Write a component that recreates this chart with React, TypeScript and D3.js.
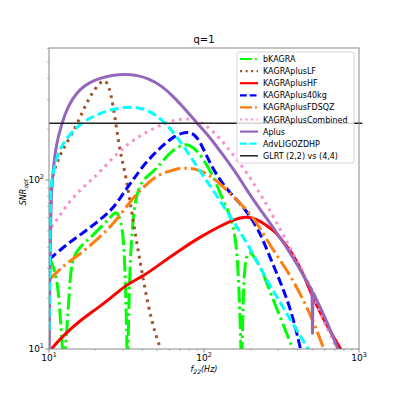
import React from "react";
import * as d3 from "d3";

type Pt = [number, number];

const bKAGRA: Pt[] = [
  [10, 35], [10.46, 32.3], [10.93, 28.55], [11.43, 23.3], [11.77, 16.3], [12.13, 11.3],
  [12.49, 7], [12.49, 7], [12.49, 7],
  [12.87, 11.3], [13.26, 16.3], [13.66, 25.6], [14.07, 32.7], [14.93, 37.5], [16.56, 41.8],
  [18.95, 46.6], [21.3, 52], [24, 58], [25.9, 62.9], [27.1, 64.7], [27.9, 62.9], [29.1, 56.4],
  [30, 48.6], [30.9, 31.4], [31.6, 14.8],
  [32.1, 7], [32.1, 7], [32.1, 7],
  [32.6, 14.8], [33.3, 31.4], [34.3, 48.6], [35.3, 66.4], [37, 83.8], [39.8, 98.6],
  [44.8, 108.5], [49.7, 117.8], [56, 134.9], [63.1, 150.5], [73.3, 163.3], [81.2, 161],
  [90.1, 150.5], [104.6, 122.7], [117.8, 100], [130.6, 78.3], [142.8, 66.4], [151.5, 56.4],
  [156.1, 50.6], [163.3, 38.5], [168.2, 22.3], [172, 12.95],
  [174.6, 7], [174.6, 7], [174.6, 7],
  [177.2, 12.95], [179.8, 22.3], [183.9, 32.7], [192.2, 38], [207, 36.5], [240.3, 28.55],
  [266.6, 21.7], [309, 15.67], [369.6, 10.28], [386, 9.2],
];

const KAGRAplusLF: Pt[] = [
  [10.03, 71.1], [10.46, 104.2], [11.26, 127.8], [12.13, 148.5], [13.66, 179.7], [15.4, 220.4],
  [17.07, 274], [18.95, 327], [20.7, 365], [22, 385], [23, 391], [24.4, 360], [25.9, 278],
  [27.1, 211.6], [28.3, 161], [29.6, 131.3], [31.4, 104.2], [32.8, 81.5], [34.3, 63.8],
  [37, 41.3], [39.8, 28.55], [43.5, 18.2], [48.3, 12.4], [52, 10.28], [54.4, 9.1],
];

const KAGRAplusHF: Pt[] = [
  [10.3, 9.8], [10.46, 10.14], [12.13, 11.78], [15.4, 14.45], [19.8, 17], [25.5, 20.3],
  [30.9, 23.6], [35.9, 25.6], [41.6, 27.4], [52, 31.8], [70, 38.5], [94.2, 46], [127, 53.4],
  [158.5, 58.8], [184, 60.8], [213, 59.6], [247.5, 54.9], [291, 49.2], [333, 41.8],
  [375, 36.5], [435, 28.2], [505, 20], [621, 13.7], [754, 10.14], [789, 9.47],
];

const KAGRAplus40kg: Pt[] = [
  [10, 34.1], [10.46, 35], [13.06, 41.8], [16.56, 48.6], [21.3, 58], [24.75, 65.5],
  [27.46, 73.1], [31.85, 89.7], [35.9, 104.2], [40.4, 121], [46.2, 138.7], [52, 154.7],
  [58.6, 170.1], [65, 182.1], [72.1, 189.7], [78.8, 192.2], [86.2, 187.1], [92.8, 172.5],
  [101.5, 146.4], [112.6, 119.4], [127, 100], [147.1, 83.8], [170.7, 73.1], [198.1, 61.2],
  [223, 51.3], [247.5, 41.3], [274.6, 32.7], [309, 25.3], [358.7, 17.7], [398, 12.4],
  [416, 10.28], [428.7, 9.2],
];

const KAGRAplusFDSQZ: Pt[] = [
  [10, 25.6], [11.26, 28.55], [13.06, 32.3], [16.56, 37.5], [21.3, 46], [27.5, 58],
  [34.83, 79.3], [44.8, 98.6], [52, 108.5], [60.4, 113], [70, 117.8], [81.2, 117.8],
  [94.2, 114.6], [114.3, 104.2], [147, 83.8], [198, 63.8], [229.7, 52], [278.7, 38.5],
  [343.2, 29.35], [416, 21.45], [505, 14.8], [586, 10.28], [604, 9.6],
];

const KAGRAplusCombined: Pt[] = [
  [10, 47.9], [10.15, 52], [11.43, 58.8], [12.68, 69.2], [15.4, 84.9], [18.4, 98.6],
  [21.3, 111.5], [27.5, 144.5], [34.8, 172.5], [44.8, 197.6], [57.7, 220.4], [73.3, 232.8],
  [87.5, 226.5], [101.5, 214.5], [127, 177.2], [158.5, 136.8], [198, 104.2], [230, 82.6],
  [255, 71.1], [309, 51.3], [375, 37], [462, 25.6], [505, 21.45], [586, 14.8], [679.6, 11.3],
  [721, 9.87],
];

const Aplus: Pt[] = [
  [10.04, 10], [10.12, 25.6], [10.23, 58], [10.46, 100], [10.93, 144.5], [11.43, 180],
  [12.68, 249], [14.07, 301], [15.85, 346], [18.4, 380], [21.3, 401], [25.5, 418],
  [30.9, 424], [37, 418], [44.8, 396], [53.6, 360], [63.1, 314], [75.5, 263], [90.1, 217],
  [109, 180], [132.6, 140.6], [163.3, 108.5], [198, 81.5], [236.6, 64.7], [295.8, 48.6],
  [375, 35], [483, 23.3], [497.5, 22.3], [497.5, 22.3],
  [501, 12.4], [501, 12.4], [501, 12.4],
  [505, 21.7], [505, 21.7], [560, 17.8], [621, 14.5], [721, 10.28], [754, 9.34],
];

const AdvLIGOZDHP: Pt[] = [
  [10.03, 12.95], [10.15, 71.1], [10.3, 89.7], [10.6, 111.5], [11.43, 144.5], [12.68, 172.5],
  [15.4, 211.6], [19.8, 242.5], [25.5, 263], [30.9, 270], [37, 270], [43.5, 259.5],
  [52, 232.8], [60.4, 203], [73.2, 161], [94.2, 113], [121.3, 80.4], [147, 61.2],
  [171, 49.2], [198, 39.6], [255, 25.3], [309, 19], [375, 14.06], [461.8, 10.28], [483, 9.6],
];

const GLRT: Pt[] = [[10, 217], [1050, 217]];

const seriesNames = [
  "bKAGRA", "KAGRAplusLF", "KAGRAplusHF", "KAGRAplus40kg", "KAGRAplusFDSQZ",
  "KAGRAplusCombined", "Aplus", "AdvLIGOZDHP", "GLRT (2,2) vs (4,4)",
];
const seriesData = [bKAGRA, KAGRAplusLF, KAGRAplusHF, KAGRAplus40kg, KAGRAplusFDSQZ, KAGRAplusCombined, Aplus, AdvLIGOZDHP, GLRT];
const seriesColors = ["#00ff00", "#a0522d", "#ff0000", "#0000ff", "#ff7f0e", "#f78fd0", "#9467bd", "#00ffff", "#222222"];
const seriesDash = ["16,4,2.5,4", "2.8,4.6", "", "9,4", "16,4,2.5,4", "2.8,4.6", "", "9,4", ""];
const seriesWidth = [3, 3, 3, 3, 3, 3, 3, 3, 1.5];

const xTicks = [10, 100, 1000];
const yTicks = [10, 100];

const W = 399, H = 399;
const L = 49, R = 359, T = 48, B = 349;

export default function App() {
  const x = d3.scaleLog().domain([10, 1000]).range([L, R]);
  const y = d3.scaleLog().domain([10, 605]).range([B, T]);
  const line = d3.line<Pt>().x(d => x(d[0])).y(d => y(d[1])).curve(d3.curveBasis);

  const xMinor: number[] = [];
  for (const dec of [10, 100]) for (let k = 2; k <= 9; k++) xMinor.push(dec * k);
  const yMinor: number[] = [];
  for (let k = 2; k <= 9; k++) yMinor.push(10 * k);
  for (let k = 2; k <= 6; k++) if (100 * k <= 605) yMinor.push(100 * k);

  const font = "DejaVu Sans, sans-serif";
  const axisCol = "#888";
  const legX = 237, legY = 52, legW = 117, legH = 111;
  const rowH = 12.1;

  return (
    <svg width={W} height={H} style={{ position: "absolute", left: 0, top: 0 }} fontFamily={font}>
      <rect x={0} y={0} width={W} height={H} fill="#fff" />
      <defs>
        <clipPath id="plot">
          <rect x={L} y={T} width={R - L} height={B - T} />
        </clipPath>
      </defs>
      <g clipPath="url(#plot)">
        {seriesData.slice(0, 8).map((d, i) => (
          <path key={i} d={line(d) || ""} fill="none" stroke={seriesColors[i]} strokeWidth={seriesWidth[i]}
            strokeDasharray={seriesDash[i] || undefined} strokeLinejoin="round" />
        ))}
      </g>
      <line x1={x(GLRT[0][0])} x2={x(GLRT[1][0])} y1={y(GLRT[0][1])} y2={y(GLRT[1][1])}
        stroke={seriesColors[8]} strokeWidth={seriesWidth[8]} />
      <rect x={L} y={T} width={R - L} height={B - T} fill="none" stroke={axisCol} strokeWidth={1} />
      {xTicks.map(t => (
        <g key={"xt" + t}>
          <line x1={x(t)} x2={x(t)} y1={B} y2={B + 3.5} stroke={axisCol} />
          <text x={x(t)} y={B + 12} fontSize={9} textAnchor="middle" fill="#000">
            10<tspan dy={-4} fontSize={6.5}>{Math.round(Math.log10(t))}</tspan>
          </text>
        </g>
      ))}
      {xMinor.map(t => (
        <line key={"xm" + t} x1={x(t)} x2={x(t)} y1={B} y2={B + 2} stroke={axisCol} strokeWidth={0.6} />
      ))}
      {yTicks.map(t => (
        <g key={"yt" + t}>
          <line x1={L - 3.5} x2={L} y1={y(t)} y2={y(t)} stroke={axisCol} />
          <text x={L - 5} y={y(t) + 3} fontSize={9} textAnchor="end" fill="#000">
            10<tspan dy={-4} fontSize={6.5}>{Math.round(Math.log10(t))}</tspan>
          </text>
        </g>
      ))}
      {yMinor.map(t => (
        <line key={"ym" + t} x1={L - 2} x2={L} y1={y(t)} y2={y(t)} stroke={axisCol} strokeWidth={0.6} />
      ))}
      <text x={(L + R) / 2} y={43} fontSize={10} textAnchor="middle" fill="#000">q=1</text>
      <text x={(L + R) / 2} y={372} fontSize={8} textAnchor="middle" fontStyle="italic" fill="#000">
        f<tspan dy={2} fontSize={6}>22</tspan><tspan dy={-2}>(Hz)</tspan>
      </text>
      <text transform={`translate(26,192) rotate(-90)`} fontSize={8} textAnchor="middle" fontStyle="italic" fill="#000">
        SNR<tspan dy={2} fontSize={6}>opt</tspan>
      </text>
      <rect x={legX} y={legY} width={legW} height={legH} fill="#fff" fillOpacity={0.8} stroke="#ccc" strokeWidth={0.8} rx={2} />
      {seriesNames.map((n, i) => {
        const cy = legY + 7 + i * rowH;
        return (
          <g key={n}>
            <line x1={legX + 3} x2={legX + 21} y1={cy} y2={cy} stroke={seriesColors[i]}
              strokeWidth={i === 8 ? 1.5 : 2.2} strokeDasharray={seriesDash[i] ? seriesDash[i].split(",").map(v => String(+v * 0.75)).join(",") : undefined} />
            <text x={legX + 26} y={cy + 3} fontSize={8} fill="#000">{n}</text>
          </g>
        );
      })}
    </svg>
  );
}
